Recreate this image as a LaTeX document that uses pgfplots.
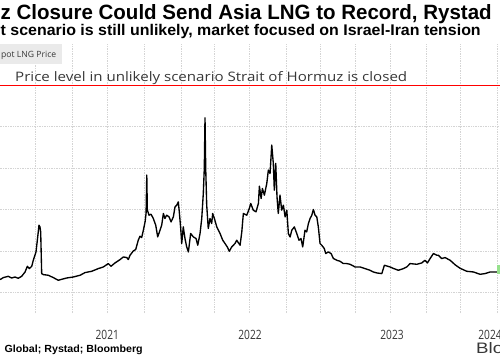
\documentclass[border=0pt]{standalone}
\usepackage{xcolor}
\usepackage{pgfplots}
\pgfplotsset{compat=1.18}
\usepackage{fontspec}
\setmainfont{Liberation Sans}
\newfontfamily\osans{Open Sans}
\usepackage{graphicx}

\definecolor{gridc}{RGB}{212,212,212}
\definecolor{legbg}{RGB}{234,234,234}
\definecolor{txtgray}{RGB}{55,55,55}
\definecolor{lastg}{RGB}{150,225,140}

\begin{document}
\begin{tikzpicture}[x=1bp,y=1bp]
\useasboundingbox (0,0) rectangle (500,360);
\fill[white] (0,0) rectangle (500,360);
\begin{scope}
\clip (0,0) rectangle (500,360);
\begin{axis}[
  at={(-36bp,47bp)}, anchor=south west,
  scale only axis, width=555bp, height=269bp,
  xmin=2020.5, xmax=2024.408, ymin=-10, ymax=120,
  axis line style={draw=none},
  major tick length=0pt,
  xtick={2020.750,2021.000,2021.261,2021.512,2021.770,2022.033,2022.263,2022.507,2022.773,2023.007,2023.254,2023.500,2023.754,2023.993,2024.254},
  xticklabels={},
  ytick={0,20,40,60,80},
  yticklabels={},
  xmajorgrids, ymajorgrids,
  grid style={gridc, line width=0.7bp, densely dotted},
  clip=false,
]
\addplot[red, line width=1.6bp, forget plot] table {
x y
2020.5 100
2024.408 100
};
\addplot[color=black, line width=1.35bp, line join=round] coordinates {
(2020.754,6.15) (2020.777,7.11) (2020.812,7.74) (2020.836,6.92) (2020.859,7.41) (2020.882,6.78)
(2020.906,7.74) (2020.930,9.83) (2020.946,12.58) (2020.960,11.47) (2020.977,12.58) (2020.988,15.49)
(2021.007,19.51) (2021.019,26.77) (2021.028,32.43) (2021.035,31.61) (2021.040,29.19) (2021.047,9.05)
(2021.058,8.57) (2021.094,8.23) (2021.129,7.11) (2021.164,5.81) (2021.188,6.29) (2021.223,6.92)
(2021.270,7.41) (2021.317,8.23) (2021.352,9.53) (2021.399,10.16) (2021.446,11.47) (2021.481,12.25)
(2021.516,13.89) (2021.535,12.58) (2021.563,14.18) (2021.599,15.83) (2021.622,17.09) (2021.646,16.79)
(2021.657,15.83) (2021.669,17.91) (2021.692,19.99) (2021.709,20.67) (2021.727,25.17) (2021.739,27.10)
(2021.751,26.47) (2021.763,30.01) (2021.775,34.03) (2021.782,38.09) (2021.787,56.63) (2021.791,39.69)
(2021.803,37.27) (2021.817,37.75) (2021.833,35.67) (2021.850,32.43) (2021.864,26.77) (2021.880,30.01)
(2021.892,32.43) (2021.904,38.09) (2021.915,35.67) (2021.927,37.27) (2021.944,36.45) (2021.958,34.03)
(2021.974,36.45) (2021.986,41.29) (2021.998,42.11) (2022.009,43.71) (2022.016,38.87) (2022.026,30.83)
(2022.033,23.57) (2022.044,31.61) (2022.056,25.99) (2022.068,21.93) (2022.080,19.51) (2022.096,28.41)
(2022.115,26.77) (2022.134,25.99) (2022.146,22.75) (2022.162,28.41) (2022.174,35.67) (2022.185,47.77)
(2022.192,59.87) (2022.197,84.36) (2022.202,59.87) (2022.209,42.11) (2022.220,30.83) (2022.232,35.67)
(2022.244,33.25) (2022.251,38.09) (2022.263,35.67) (2022.280,31.61) (2022.303,28.41) (2022.322,25.17)
(2022.338,23.57) (2022.354,21.93) (2022.368,19.84) (2022.385,21.93) (2022.408,23.57) (2022.420,25.17)
(2022.444,22.75) (2022.456,29.19) (2022.467,38.09) (2022.491,37.27) (2022.509,40.51) (2022.519,42.93)
(2022.537,39.69) (2022.556,38.87) (2022.573,42.93) (2022.580,51.30) (2022.592,45.35) (2022.601,50.19)
(2022.615,46.95) (2022.632,52.61) (2022.643,59.05) (2022.655,57.45) (2022.667,71.15) (2022.678,62.29)
(2022.685,49.37) (2022.695,62.29) (2022.704,46.13) (2022.713,38.09) (2022.725,46.95) (2022.737,39.69)
(2022.749,42.11) (2022.761,36.45) (2022.773,39.69) (2022.784,28.41) (2022.796,26.77) (2022.808,30.01)
(2022.826,31.61) (2022.843,28.41) (2022.859,25.17) (2022.873,25.99) (2022.885,21.93) (2022.901,30.01)
(2022.913,29.19) (2022.925,33.25) (2022.937,35.67) (2022.949,37.27) (2022.960,40.03) (2022.972,37.27)
(2022.984,36.45) (2022.995,31.61) (2023.007,23.57) (2023.019,22.75) (2023.037,21.15) (2023.047,18.73)
(2023.065,19.51) (2023.085,18.73) (2023.101,16.31) (2023.125,15.49) (2023.148,15.00) (2023.171,13.89)
(2023.195,13.89) (2023.218,13.55) (2023.254,12.25) (2023.289,12.25) (2023.324,11.47) (2023.359,10.65)
(2023.382,9.83) (2023.408,9.34) (2023.442,9.05) (2023.460,13.07) (2023.477,12.73) (2023.500,12.25)
(2023.521,11.62) (2023.558,10.65) (2023.594,11.47) (2023.618,12.25) (2023.641,13.89) (2023.688,13.55)
(2023.723,14.18) (2023.746,15.49) (2023.763,14.18) (2023.782,16.31) (2023.805,18.73) (2023.829,17.91)
(2023.840,17.91) (2023.864,16.31) (2023.887,16.79) (2023.923,15.49) (2023.958,13.31) (2023.993,11.62)
(2024.040,10.16) (2024.087,9.83) (2024.134,8.71) (2024.169,9.05) (2024.204,9.83) (2024.251,9.83)
(2024.275,9.92)
} node[pos=1, anchor=center, inner sep=0pt, minimum width=4bp, minimum height=9bp, fill=lastg, xshift=-1bp, yshift=2bp] {};
% year labels
\node[anchor=base, inner sep=0pt, yshift=-26bp] at (axis cs:2021.509,-10) {\resizebox{23.3bp}{9.3bp}{\color{txtgray}\osans 2021}};
\node[anchor=base, inner sep=0pt, yshift=-26bp] at (axis cs:2022.514,-10) {\resizebox{23.3bp}{9.3bp}{\color{txtgray}\osans 2022}};
\node[anchor=base, inner sep=0pt, yshift=-26bp] at (axis cs:2023.514,-10) {\resizebox{23.3bp}{9.3bp}{\color{txtgray}\osans 2023}};
\node[anchor=base, inner sep=0pt, yshift=-26bp] at (axis cs:2024.204,-10) {\resizebox{23.3bp}{9.3bp}{\color{txtgray}\osans 2024}};
\end{axis}
% legend box
\fill[legbg] (0,296) rectangle (62,316);
\node[anchor=base west, inner sep=0pt] at (1,302.7) {\resizebox{55bp}{6.3bp}{\color{txtgray}\osans pot LNG Price}};
% red line label
\node[anchor=base west, inner sep=0pt] at (15,279) {\resizebox{392bp}{10bp}{\color{txtgray}\osans Price level in unlikely scenario Strait of Hormuz is closed}};
% title and subtitle
\node[anchor=base west, inner sep=0pt] at (0.5,340.5) {\resizebox{491bp}{15bp}{\bfseries z Closure Could Send Asia LNG to Record, Rystad}};
\node[anchor=base west, inner sep=0pt] at (0.5,325) {\resizebox{480bp}{11.2bp}{\bfseries t scenario is still unlikely, market focused on Israel-Iran tension}};
% source and logo
\node[anchor=base west, inner sep=0pt] at (4.5,8) {\resizebox{138bp}{7.5bp}{\bfseries Global; Rystad; Bloomberg}};
\node[anchor=base west, inner sep=0pt] at (476,6.5) {\resizebox{27bp}{11bp}{\color{txtgray}Blo}};
\end{scope}
\end{tikzpicture}
\end{document}
